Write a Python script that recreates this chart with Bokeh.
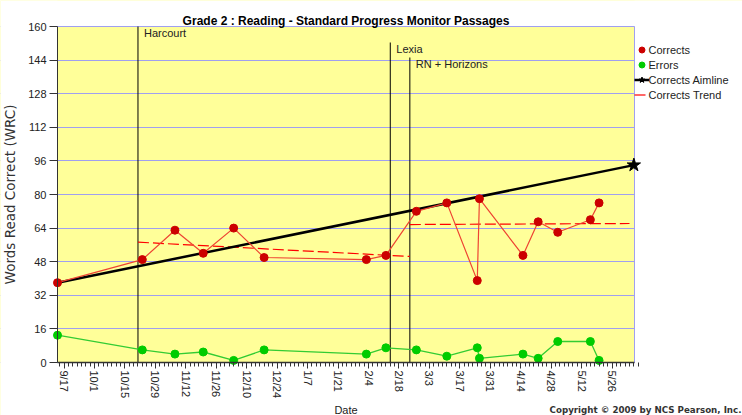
import pandas as pd
from bokeh.plotting import figure
from bokeh.models import (ColumnDataSource, FixedTicker, Legend, LegendItem, Label,
                          Range1d, BoxAnnotation)
from bokeh.embed import file_html
from bokeh.resources import INLINE
from bokeh.core.properties import value

# ---------------- data ----------------
title_text = "Grade 2 : Reading - Standard Progress Monitor Passages"
score_dates = ["2007-09-14", "2007-10-23", "2007-11-07", "2007-11-20", "2007-12-04",
               "2007-12-18", "2008-02-03", "2008-02-12", "2008-02-26", "2008-03-11",
               "2008-03-25", "2008-03-26", "2008-04-15", "2008-04-22", "2008-05-01",
               "2008-05-16", "2008-05-20"]
corrects = [38, 49, 63, 52, 64, 50, 49, 51, 72, 76, 39, 78, 51, 67, 62, 68, 76]
errors = [13, 6, 4, 5, 1, 6, 4, 7, 6, 3, 7, 2, 4, 2, 10, 10, 1]

aim_dates = ["2007-09-14", "2008-06-05"]
aim_values = [38, 94]

trend1_dates = ["2007-10-21", "2008-02-23"]
trend1_values = [57.3, 50.5]
trend2_dates = ["2008-02-23", "2008-06-03"]
trend2_values = [65.7, 66.2]

phase_names = ["Harcourt", "Lexia", "RN + Horizons"]
phase_dates = ["2007-10-21", "2008-02-14", "2008-02-23"]

tick_dates = ["2007-09-17", "2007-10-01", "2007-10-15", "2007-10-29", "2007-11-12",
              "2007-11-26", "2007-12-10", "2007-12-24", "2008-01-07", "2008-01-21",
              "2008-02-04", "2008-02-18", "2008-03-03", "2008-03-17", "2008-03-31",
              "2008-04-14", "2008-04-28", "2008-05-12", "2008-05-26"]
tick_labels = ["9/17", "10/1", "10/15", "10/29", "11/12", "11/26", "12/10", "12/24",
               "1/7", "1/21", "2/4", "2/18", "3/3", "3/17", "3/31", "4/14", "4/28",
               "5/12", "5/26"]
y_ticks = [0, 16, 32, 48, 64, 80, 96, 112, 128, 144, 160]

x_start = "2007-09-14"
x_end = "2008-06-05 07:00"
y_lo, y_hi = 0, 160

# ---------------- helpers ----------------
ORIGIN = pd.Timestamp(x_start)


def to_day(ds):
    return [(pd.Timestamp(d) - ORIGIN).total_seconds() / 86400.0 for d in ds]


FONT = "Liberation Sans"
TXT = "#222222"
GRID = "#A0A0F0"
YELLOW = "#FFFF99"

# layout (pixels): canvas and the plotting area inside it
W, H = 742, 415
PL, PR, PT, PB = 57, 634, 26, 362

x_end_day = to_day([x_end])[0]
sx = (PR - PL) / x_end_day
sy = (PB - PT) / (y_hi - y_lo)
x_range = Range1d(-PL / sx, x_end_day + (W - PR) / sx)
y_range = Range1d(y_lo - (H - PB) / sy, y_hi + PT / sy)

p = figure(width=W, height=H, output_backend="svg", toolbar_location=None,
           x_range=x_range, y_range=y_range, min_border=0,
           background_fill_color=YELLOW, border_fill_color="white",
           outline_line_color=None, title=None)

# grid
p.xgrid.visible = False
p.ygrid.ticker = FixedTicker(ticks=y_ticks)
p.ygrid.grid_line_color = GRID
p.ygrid.grid_line_width = 1

# white surroundings of the plotting area
for kw in (dict(top=y_lo), dict(bottom=y_hi), dict(right=0), dict(left=x_end_day)):
    p.add_layout(BoxAnnotation(fill_color="white", fill_alpha=1, line_color=None,
                               level="underlay", **kw))
p.add_layout(BoxAnnotation(left=0, right=x_end_day, bottom=y_lo, top=y_hi,
                           fill_alpha=0, line_color=GRID, line_alpha=1, line_width=1,
                           level="underlay"))

# y axis
ya = p.yaxis[0]
ya.fixed_location = 0
ya.bounds = (y_lo, y_hi)
ya.ticker = FixedTicker(ticks=y_ticks)
ya.major_tick_out = 8
ya.major_tick_in = 0
ya.minor_tick_out = 0
ya.minor_tick_in = 0
ya.major_label_standoff = 3
ya.axis_line_color = "#333333"
ya.major_tick_line_color = "#333333"
ya.major_label_text_font = FONT
ya.major_label_text_font_size = "11px"
ya.major_label_text_color = TXT
ya.axis_label = "Words Read Correct (WRC)"
ya.axis_label_standoff = 7
ya.axis_label_text_font = "DejaVu Sans"
ya.axis_label_text_font_size = "13.5px"
ya.axis_label_text_font_style = "normal"
ya.axis_label_text_color = "#333333"

# x axis
xa = p.xaxis[0]
tdays = [int(round(d)) for d in to_day(tick_dates)]
minor = [tdays[0] + 2 * k for k in range(-1, 133)]
xa.fixed_location = y_lo
xa.bounds = (0, x_end_day)
xa.ticker = FixedTicker(ticks=tdays, minor_ticks=minor)
xa.major_label_overrides = {d: l for d, l in zip(tdays, tick_labels)}
xa.major_label_orientation = "vertical"
xa.major_tick_out = 6
xa.major_tick_in = 0
xa.minor_tick_out = 4
xa.minor_tick_in = 0
xa.major_label_standoff = 2
xa.axis_line_color = "#333333"
xa.axis_line_width = 1.5
xa.major_tick_line_color = "#333333"
xa.minor_tick_line_color = "#333333"
xa.major_label_text_font = FONT
xa.major_label_text_font_size = "11px"
xa.major_label_text_color = TXT
xa.axis_label = "Date"
xa.axis_label_standoff = 3
xa.axis_label_text_font = FONT
xa.axis_label_text_font_size = "11px"
xa.axis_label_text_font_style = "normal"
xa.axis_label_text_color = TXT

# phase change lines (staggered tops, in px below the area top)
top_offsets_px = [0, 16, 31]
px = to_day(phase_dates)
tops = [y_hi - o / sy for o in top_offsets_px]
p.segment(x0=px, y0=[y_lo] * len(px), x1=px, y1=tops, line_color="black", line_width=1)
p.text(x=px, y=tops, text=phase_names, x_offset=6, y_offset=0, text_baseline="top",
       text_font=value(FONT), text_font_size="11px", text_color=TXT)

# trend lines
r_tr1 = p.line(to_day(trend1_dates), trend1_values, line_color="#FF0000",
               line_width=1.2, line_dash="11 4")
p.line(to_day(trend2_dates), trend2_values, line_color="#FF0000",
       line_width=1.2, line_dash="11 4")

# series
src = ColumnDataSource(dict(x=to_day(score_dates), corrects=corrects, errors=errors))
p.line("x", "errors", source=src, line_color="#33CC33", line_width=1.3)
r_e = p.scatter("x", "errors", source=src, size=8, marker="circle",
                fill_color="#00CC00", line_color="#00CC00")

# aimline
ax = to_day(aim_dates)
r_aim = p.line(ax, aim_values, line_color="black", line_width=2.5)
r_star = p.scatter([ax[-1]], [aim_values[-1]], marker="star", size=14,
                   fill_color="black", line_color="black")

p.line("x", "corrects", source=src, line_color="#EE4433", line_width=1.2)
r_c = p.scatter("x", "corrects", source=src, size=8, marker="circle",
                fill_color="#CC0000", line_color="#CC0000")

# legend (to the right of the plotting area)
legend = Legend(items=[LegendItem(label="Corrects", renderers=[r_c]),
                       LegendItem(label="Errors", renderers=[r_e]),
                       LegendItem(label="Corrects Aimline", renderers=[r_aim, r_star]),
                       LegendItem(label="Corrects Trend", renderers=[r_tr1])],
                location=(PR - 0.5, H - 102), orientation="vertical",
                glyph_width=15, glyph_height=15, label_height=15, spacing=0,
                padding=0, margin=0, border_line_color=None,
                background_fill_alpha=0, label_standoff=0,
                label_text_font=FONT, label_text_font_size="11px",
                label_text_color=TXT)
p.add_layout(legend)

# title and copyright
p.add_layout(Label(x=(PL + PR) / 2, y=H - 20, x_units="screen", y_units="screen",
                   text=title_text, text_align="center", text_baseline="alphabetic",
                   text_font=FONT, text_font_style="bold", text_font_size="12px",
                   text_color="black"))
p.add_layout(Label(x=W - 1, y=H - 409, x_units="screen", y_units="screen",
                   text="Copyright \u00a9 2009 by NCS Pearson, Inc.", text_align="right",
                   text_baseline="alphabetic", text_font="DejaVu Sans",
                   text_font_style="bold", text_font_size="8.7px", text_color="#333333"))

open("out.html", "w").write(file_html(p, INLINE))
